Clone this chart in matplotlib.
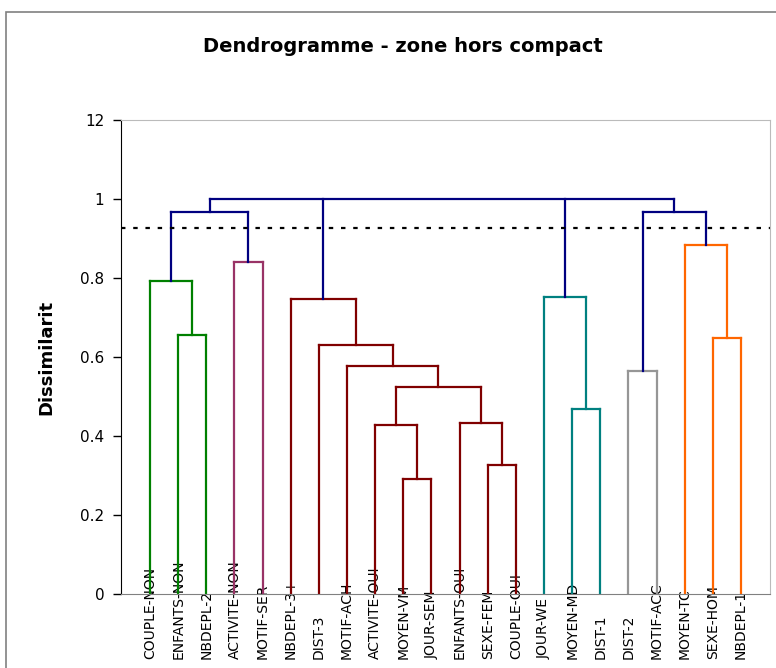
import matplotlib
matplotlib.use("Agg")
import matplotlib.pyplot as plt
from matplotlib.patches import Rectangle

# leaves, left to right
labels = ["COUPLE-NON", "ENFANTS-NON", "NBDEPL-2", "ACTIVITE-NON", "MOTIF-SER",
          "NBDEPL-3+", "DIST-3", "MOTIF-ACH", "ACTIVITE-OUI", "MOYEN-VM",
          "JOUR-SEM", "ENFANTS-OUI", "SEXE-FEM", "COUPLE-OUI", "JOUR-WE",
          "MOYEN-MD", "DIST-1", "DIST-2", "MOTIF-ACC", "MOYEN-TC",
          "SEXE-HOM", "NBDEPL-1"]

# merges: children ids (leaves 0..21, merges 22..), height, group
merge_children = [[1, 2], [0, 22], [3, 4], [23, 24],
                  [9, 10], [8, 26], [12, 13], [11, 28], [27, 29], [7, 30], [6, 31], [5, 32],
                  [15, 16], [14, 34], [17, 18], [20, 21], [19, 37], [36, 38],
                  [25, 33, 35, 39]]
merge_heights = [0.655, 0.792, 0.84, 0.967,
                 0.291, 0.428, 0.327, 0.433, 0.524, 0.577, 0.63, 0.747,
                 0.468, 0.752, 0.565, 0.648, 0.884, 0.967,
                 1.0]
merge_groups = ["green", "green", "purple", "top",
                "red", "red", "red", "red", "red", "red", "red", "red",
                "teal", "teal", "gray", "orange", "orange", "top",
                "top"]
cut_height = 0.927

yticks = [0, 0.2, 0.4, 0.6, 0.8, 1.0, 1.2]
ytick_labels = ["0", "0.2", "0.4", "0.6", "0.8", "1", "12"]

colors = {"green": "#008000", "purple": "#993366", "top": "#000080",
          "red": "#800000", "teal": "#008080", "gray": "#969696",
          "orange": "#FF6600"}

fig = plt.figure(figsize=(7.76, 6.68), dpi=100)
ax = fig.add_axes([121/776, 1-594/668, 649/776, 474/668])

n = len(labels)
xpos = {i: float(i) for i in range(n)}
ypos = {i: 0.0 for i in range(n)}
for k, ch in enumerate(merge_children):
    nid = n + k
    h = merge_heights[k]
    c = colors[merge_groups[k]]
    xs = [xpos[c_] for c_ in ch]
    ax.plot([min(xs), max(xs)], [h, h], color=c, lw=1.6, solid_capstyle="projecting")
    for c_ in ch:
        ax.plot([xpos[c_], xpos[c_]], [ypos[c_], h], color=c, lw=1.6)
    xpos[nid] = (min(xs) + max(xs)) / 2
    ypos[nid] = h

ax.axhline(cut_height, color="black", lw=1.6, linestyle=(0, (2, 3.5)))

ax.set_xlim(-1.03, 22.03)
ax.set_ylim(0, 1.2)
ax.set_yticks(yticks)
ax.set_yticklabels(ytick_labels, fontsize=11)
ax.tick_params(axis="y", direction="out", length=6, width=1, pad=6)
ax.set_xticks(range(n))
ax.set_xticklabels(labels, rotation=90, fontsize=10)
for t in ax.get_xticklabels():
    t.set_va("bottom")
ax.tick_params(axis="x", length=0, pad=47)

for s in ["top", "right"]:
    ax.spines[s].set_color("#bbbbbb")
ax.spines["bottom"].set_color("#808080")
ax.spines["left"].set_color("black")

ax.set_ylabel("Dissimilarit", fontsize=13, fontweight="bold", labelpad=18)
fig.text(403/776, 1-47/668, "Dendrogramme - zone hors compact", ha="center",
         va="center", fontsize=14, fontweight="bold")

fig.patches.append(Rectangle((6/776, -0.1), 1.2, 1.1 - 12/668, transform=fig.transFigure,
                             fill=False, edgecolor="#808080", lw=1.2))

fig.savefig("out.png", dpi=100)
